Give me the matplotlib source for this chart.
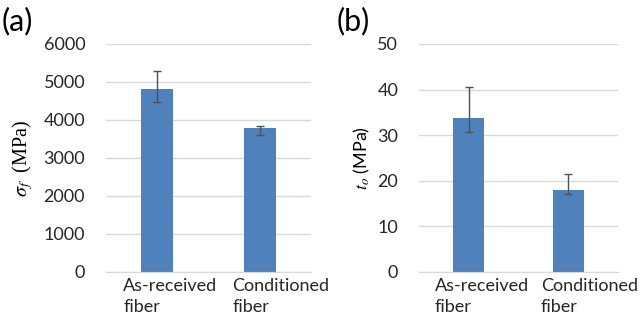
import numpy as np
import matplotlib
matplotlib.use("Agg")
import matplotlib.pyplot as plt
import matplotlib.transforms as mtrans

plt.rcParams['font.family'] = ['Lato', 'DejaVu Sans']

categories = ["As-received\nfiber", "Conditioned\nfiber"]

# (a) fracture strength
sigma = [4805, 3790]
sigma_lo = [325, 180]
sigma_hi = [485, 40]

# (b) interfacial strength
tau = [33.7, 18.0]
tau_lo = [3.1, 0.9]
tau_hi = [6.8, 3.6]

bar_color = "#4F81BD"
grid_color = "#D9D9D9"
text_color = "#262626"

fig = plt.figure(figsize=(6.4, 3.22), dpi=100)
ax1 = fig.add_axes([106 / 640, 50 / 322, 205 / 640, 228 / 322])
ax2 = fig.add_axes([419 / 640, 50 / 322, 199 / 640, 228 / 322])


def style(ax, vals, lo, hi, ymax, step):
    x = np.arange(len(vals))
    ax.bar(x, vals, width=0.31, color=bar_color, zorder=2)
    ax.errorbar(x, vals, yerr=[lo, hi], fmt="none", ecolor="#505050",
                elinewidth=1, capsize=3, capthick=1, zorder=3)
    ax.set_xlim(-0.5, len(vals) - 0.5)
    ax.set_ylim(0, ymax)
    ax.set_yticks(np.arange(0, ymax + step / 2, step))
    ax.yaxis.grid(True, color=grid_color, lw=1, zorder=0)
    ax.set_axisbelow(True)
    for s in ["top", "right", "left"]:
        ax.spines[s].set_visible(False)
    ax.spines["bottom"].set_color(grid_color)
    ax.tick_params(length=0, labelsize=13, colors=text_color)
    ax.tick_params(axis="y", pad=15)
    ax.tick_params(axis="x", pad=4)
    ax.set_xticks(x)
    ax.set_xticklabels(categories, linespacing=1.45)
    shifts = [13, 21]
    for lbl, dx in zip(ax.get_xticklabels(), shifts):
        lbl.set_multialignment("left")
        lbl.set_color(text_color)
        off = mtrans.ScaledTranslation(dx / 100, 0, fig.dpi_scale_trans)
        lbl.set_transform(lbl.get_transform() + off)


style(ax1, sigma, sigma_lo, sigma_hi, 6000, 1000)
style(ax2, tau, tau_lo, tau_hi, 50, 10)

ax1.set_ylabel(r"$\sigma_f$  (MPa)", family="Liberation Serif",
               math_fontfamily="stix", fontsize=14.5, labelpad=6)
ax2.set_ylabel(r"$t_o$ (MPa)", fontsize=13, math_fontfamily="stix",
               labelpad=4)

fig.text(2 / 640, 1 - 21 / 322, "(a)", fontsize=22, va="center", ha="left")
fig.text(337 / 640, 1 - 21 / 322, "(b)", fontsize=22, va="center", ha="left")

fig.savefig("out.png", dpi=100)
